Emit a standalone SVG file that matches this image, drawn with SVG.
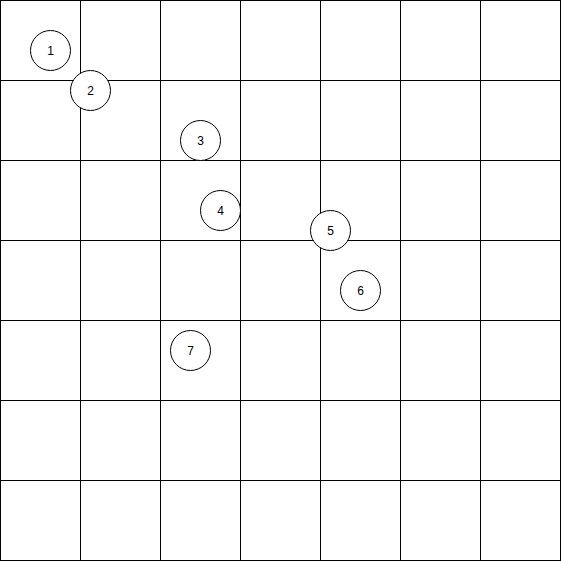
<svg xmlns="http://www.w3.org/2000/svg" width="562" height="562" viewBox="0 0 562 562">
<style>
.grid line{stroke:#000;stroke-width:1}
.cell{fill:none;stroke:#000;stroke-width:1}
.node circle{fill:#fff;stroke:#000;stroke-width:1}
.node text{font-family:"Liberation Sans",Arial,sans-serif;font-size:12px;fill:#000;text-anchor:middle;dominant-baseline:central}
</style>
<rect width="562" height="562" fill="#fff"/>
<g id="grid" class="grid">
<rect class="cell" x="0.5" y="0.5" width="560" height="560"/>
<line x1="80.5" y1="0.5" x2="80.5" y2="560.5"/>
<line x1="160.5" y1="0.5" x2="160.5" y2="560.5"/>
<line x1="240.5" y1="0.5" x2="240.5" y2="560.5"/>
<line x1="320.5" y1="0.5" x2="320.5" y2="560.5"/>
<line x1="400.5" y1="0.5" x2="400.5" y2="560.5"/>
<line x1="480.5" y1="0.5" x2="480.5" y2="560.5"/>
<line x1="0.5" y1="80.5" x2="560.5" y2="80.5"/>
<line x1="0.5" y1="160.5" x2="560.5" y2="160.5"/>
<line x1="0.5" y1="240.5" x2="560.5" y2="240.5"/>
<line x1="0.5" y1="320.5" x2="560.5" y2="320.5"/>
<line x1="0.5" y1="400.5" x2="560.5" y2="400.5"/>
<line x1="0.5" y1="480.5" x2="560.5" y2="480.5"/>
</g>
<g id="connectors"></g>
<g id="n1" class="node"><circle cx="50.5" cy="50.5" r="20"/><text x="50.5" y="50.5">1</text></g>
<g id="n2" class="node"><circle cx="90.5" cy="90.5" r="20"/><text x="90.5" y="90.5">2</text></g>
<g id="n3" class="node"><circle cx="200.5" cy="140.5" r="20"/><text x="200.5" y="140.5">3</text></g>
<g id="n4" class="node"><circle cx="220.5" cy="210.5" r="20"/><text x="220.5" y="210.5">4</text></g>
<g id="n5" class="node"><circle cx="330.5" cy="230.5" r="20"/><text x="330.5" y="230.5">5</text></g>
<g id="n6" class="node"><circle cx="360.5" cy="290.5" r="20"/><text x="360.5" y="290.5">6</text></g>
<g id="n7" class="node"><circle cx="190.5" cy="350.5" r="20"/><text x="190.5" y="350.5">7</text></g>
</svg>
